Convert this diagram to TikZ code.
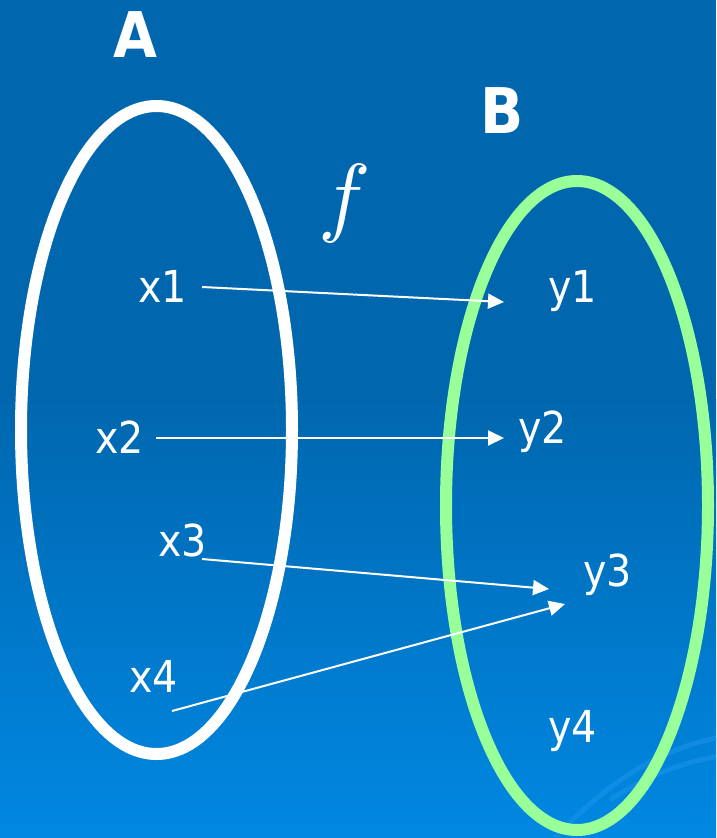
\documentclass[tikz,border=0pt]{standalone}
\usepackage{fontspec}
\usetikzlibrary{arrows.meta}
\newfontfamily\lblfont{DejaVu Sans Condensed}
\newfontfamily\ttlfont{DejaVu Sans Condensed}[BoldFont={DejaVu Sans Condensed Bold}]
\definecolor{bgtop}{HTML}{0067AF}
\definecolor{bgbot}{HTML}{0088E2}
\definecolor{swirl}{HTML}{1A92EA}
\definecolor{setgreen}{HTML}{99FF99}
\tikzset{
  elem/.style={anchor=base west, inner sep=0pt, text=white, font=\lblfont\fontsize{44}{44}\selectfont},
  ttl/.style={anchor=base west, inner sep=0pt, text=white, font=\ttlfont\bfseries\fontsize{63}{63}\selectfont},
  maparrow/.style={draw=white, line width=2pt, -{Triangle[length=16pt,width=15pt]}},
  setA/.style={draw=white, line width=12pt},
  setB/.style={draw=setgreen, line width=12pt}
}
\begin{document}
\begin{tikzpicture}[x=1pt,y=-1pt]
\useasboundingbox (0,0) rectangle (716,838);
% background
\fill[bgtop] (0,0) rectangle (716,400);
\shade[top color=bgtop, bottom color=bgbot] (0,399) rectangle (716,838);
% faint swirl
\begin{scope}[line width=5pt, draw=swirl, opacity=0.6]
\draw (555,838) .. controls (600,790) and (650,752) .. (716,738);
\draw (610,800) .. controls (640,780) and (680,762) .. (716,757);
\end{scope}
% sets
\draw[setA] (156.5,430) ellipse [x radius=135.5, y radius=324];
\draw[setB] (577,505.5) ellipse [x radius=131, y radius=324.5];
% titles
\node[ttl] (tA) at (113,57) {A};
\node[ttl] (tB) at (480,133) {B};
\node[inner sep=0pt, text=white, scale=8.8] (fn) at (345,203) {$f$};
% elements
\node[elem] (x1) at (138,302) {x1};
\node[elem] (x2) at (95,453) {x2};
\node[elem] (x3) at (158,556) {x3};
\node[elem] (x4) at (129,692) {x4};
\node[elem] (y1) at (548,302) {y1};
\node[elem] (y2) at (518,443) {y2};
\node[elem] (y3) at (583,586) {y3};
\node[elem] (y4) at (548,742) {y4};
% arrow ends
\coordinate (s1) at (202,287);
\coordinate (e1) at (504,302);
\coordinate (s2) at (156,438);
\coordinate (e2) at (504,438);
\coordinate (s3) at (202,559);
\coordinate (e3) at (549,589);
\coordinate (s4) at (172,711);
\coordinate (e4) at (565,604);
\draw[maparrow] (s1) -- (e1);
\draw[maparrow] (s2) -- (e2);
\draw[maparrow] (s3) -- (e3);
\draw[maparrow] (s4) -- (e4);
\end{tikzpicture}
\end{document}
